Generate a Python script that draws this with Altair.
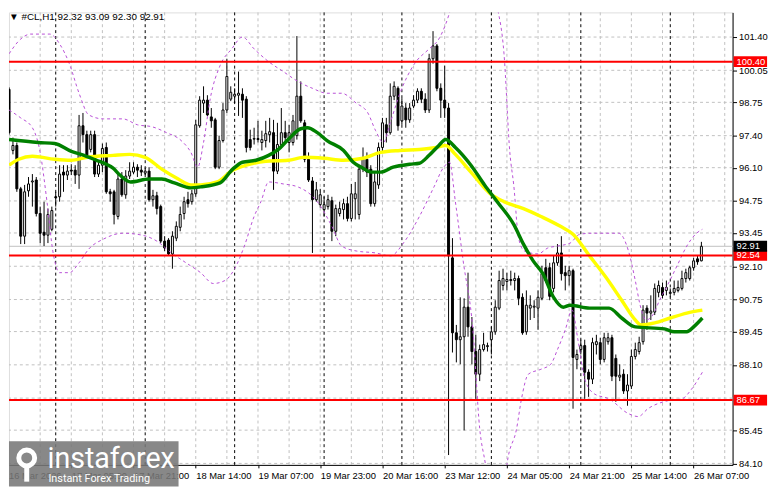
import altair as alt
import pandas as pd

# ---------------- data ----------------
bar_open = [99.28,96.80,97.00,95.24,93.32,95.16,95.52,95.60,94.24,93.48,93.36,93.60,94.92,94.92,95.92,95.80,96.00,96.00,95.80,97.80,
            97.44,96.84,97.44,95.84,96.20,96.92,95.12,95.12,94.12,95.64,95.00,95.76,95.92,96.12,96.00,95.88,95.96,94.80,94.96,94.52,
            93.12,93.16,92.60,93.24,93.68,94.24,94.80,94.72,95.04,97.80,98.72,98.84,98.16,98.04,96.12,97.20,98.44,98.88,99.00,99.04,
            99.08,98.88,97.24,97.26,97.28,97.12,97.20,97.44,97.52,95.96,97.04,97.52,97.12,97.12,97.40,99.00,97.92,96.44,95.56,94.80,
            94.60,94.40,94.52,94.76,93.52,94.24,94.40,94.64,94.04,94.84,94.20,96.04,96.44,96.04,94.64,95.40,96.92,97.84,97.52,99.00,
            99.32,98.00,98.52,98.04,98.60,98.84,99.20,98.88,98.44,100.52,101.04,99.32,98.84,98.52,92.44,89.40,89.12,89.24,90.44,89.64,
            88.64,87.72,88.72,88.84,89.12,89.44,90.40,91.32,91.48,91.56,91.52,91.60,90.84,89.44,90.40,90.44,90.40,90.80,92.04,92.04,
            91.20,92.24,92.64,91.84,91.72,91.92,88.32,88.72,88.88,87.80,87.52,88.92,89.00,88.32,89.04,89.20,88.36,87.60,87.72,87.04,
            87.24,88.44,88.64,89.04,90.40,90.20,90.24,91.04,91.24,91.12,91.00,91.04,91.12,91.20,91.60,91.60,92.04,92.40,92.32]
bar_high = [99.36,97.32,97.12,95.32,95.40,95.72,95.84,95.72,94.52,94.72,94.44,94.52,95.12,96.20,96.20,96.20,96.24,96.20,98.24,98.32,
            97.60,97.60,97.60,96.40,97.08,97.12,95.24,95.20,95.84,95.92,96.00,96.32,96.32,96.24,96.20,96.08,96.12,95.20,95.12,94.60,
            93.32,93.24,93.52,93.92,94.52,94.92,95.12,95.20,98.04,99.00,99.40,99.04,98.52,98.12,97.40,98.72,100.52,99.40,99.32,100.00,
            99.32,99.00,97.64,97.72,98.00,97.60,98.00,98.12,98.04,97.92,98.52,98.00,97.84,98.24,101.44,99.60,98.04,96.72,95.72,95.52,
            95.24,94.92,95.00,94.92,94.60,94.72,94.84,94.92,95.44,95.52,96.20,96.92,96.72,96.20,95.92,97.12,98.12,98.12,99.52,99.60,
            99.40,98.92,98.72,98.72,99.04,99.32,99.32,99.12,100.72,101.64,101.12,99.52,100.24,98.72,93.24,89.72,90.84,90.80,91.84,90.04,
            89.32,88.92,89.40,89.00,89.64,90.72,91.92,92.00,91.84,91.92,91.84,91.72,91.00,91.12,90.92,90.72,91.12,92.12,92.40,92.24,
            92.52,93.00,93.32,92.12,92.12,92.00,88.72,89.12,89.12,87.92,89.20,89.32,89.20,89.40,89.40,89.32,88.52,88.12,87.92,87.72,
            88.72,89.00,89.24,90.52,90.52,90.92,91.40,91.52,91.44,91.52,91.20,91.52,91.52,91.92,92.00,92.12,92.44,92.52,93.09]
bar_low = [97.44,96.64,95.12,93.00,93.00,94.92,94.52,94.12,93.04,92.92,93.04,93.52,94.52,94.72,95.12,95.60,95.80,95.44,95.24,97.12,
           96.52,96.72,95.72,95.72,95.92,95.04,94.72,93.80,94.00,94.92,94.84,95.64,95.84,95.72,95.76,95.72,94.72,94.52,94.20,93.04,
           92.72,92.52,92.00,93.12,93.52,94.00,94.48,94.60,94.92,97.72,98.32,98.20,97.72,96.04,96.04,97.12,98.32,98.80,98.72,98.20,
           98.12,96.72,96.80,97.04,97.12,96.80,96.92,97.12,95.20,95.84,96.92,97.12,96.72,97.00,97.24,97.92,96.32,95.52,92.64,94.72,
           94.48,94.12,94.40,93.12,93.32,94.12,94.00,93.92,93.92,94.00,94.00,95.92,95.72,94.52,94.52,95.24,96.72,97.12,97.44,98.84,
           97.60,97.84,97.72,97.92,98.52,98.72,98.72,98.32,98.32,100.32,99.20,98.12,98.12,84.44,88.60,88.20,88.12,85.44,89.24,88.12,
           86.72,87.44,88.64,88.64,88.52,89.32,90.32,91.12,91.12,91.32,91.12,90.52,89.32,89.32,89.92,90.00,89.52,90.72,91.44,90.72,
           91.04,92.12,91.52,91.12,91.32,86.32,87.92,88.52,86.72,86.80,87.32,88.52,88.12,88.20,88.92,87.44,86.60,87.44,86.92,86.44,
           87.12,88.32,88.52,88.92,89.52,89.92,90.12,90.84,90.80,90.92,90.84,90.92,91.04,91.12,91.44,91.52,91.92,92.16,92.30]
bar_close = [97.52,97.00,95.24,93.32,95.12,95.44,95.56,94.24,93.44,93.36,94.20,94.36,94.88,95.84,95.80,95.96,95.96,95.80,97.80,97.44,
             96.60,97.44,95.84,96.20,96.88,95.12,95.04,94.20,95.64,95.00,95.76,95.96,96.12,96.00,95.92,95.96,94.80,94.96,94.44,93.12,
             92.84,92.60,93.32,93.72,94.20,94.72,94.64,95.04,97.84,98.84,98.84,98.24,98.00,96.12,97.20,98.44,99.80,99.16,99.08,99.12,
             98.84,96.92,96.92,97.28,97.24,97.24,97.48,97.56,95.96,97.04,97.52,97.32,97.52,98.00,99.00,98.00,96.44,95.60,94.80,95.20,
             95.00,94.60,94.80,93.52,94.44,94.44,94.64,94.04,95.04,95.04,96.04,96.44,95.92,94.64,95.52,96.92,97.92,97.52,99.00,99.40,
             97.80,98.60,98.04,98.52,98.84,99.20,98.88,98.44,100.52,101.04,99.32,98.84,98.52,92.52,89.40,89.12,89.24,90.44,89.64,88.64,
             87.72,88.72,88.92,88.88,89.44,90.44,91.52,91.60,91.56,91.52,91.60,90.80,89.40,90.52,90.52,90.48,90.84,91.80,91.52,90.88,
             92.24,92.64,91.80,91.72,91.92,88.40,88.52,88.88,87.80,87.52,89.00,89.04,88.32,89.20,89.20,87.64,87.64,87.68,87.04,87.28,
             88.44,88.72,89.00,90.32,90.20,90.28,91.20,91.32,90.92,91.24,91.04,91.20,91.24,91.60,91.84,92.04,92.32,92.28,92.91]

# moving averages (bar index, price)
ma_green_i = [0,7.5,11.75,16,18.5,22.5,25,26.75,28.5,31.25,36,39.25,42.5,46.75,49.25,54.25,57.5,60,63.5,66.75,69.25,71.75,75,76.75,
              79.25,81.75,86,88.5,91,93,95.5,98.75,103,105.5,108,110.5,112.25,114.75,118.75,122.25,125.5,129.75,132.25,134.75,137.25,
              140,142.5,144.25,149.25,154.25,157.5,161,168.5,171,174.25,176,178.25]
ma_green_p = [97.24,97.12,97.08,96.76,96.64,96.40,96.24,96.08,95.80,95.52,95.64,95.64,95.48,95.28,95.32,95.48,96.04,96.32,96.40,96.60,
              96.84,97.24,97.68,97.72,97.52,97.20,96.80,96.32,96.08,95.92,95.92,96.12,96.24,96.28,96.60,97.00,97.24,96.92,96.20,95.40,
              94.72,93.80,93.00,92.32,91.80,90.84,90.44,90.52,90.40,90.40,90.00,89.64,89.56,89.44,89.44,89.64,90.00]
ma_yellow_i = [0,2.5,6,11.75,16,20,26.75,31,35,39.25,43.5,46.75,49.25,53.5,57.5,61,66,71.75,76,81,86,91,95.5,100.5,105.5,109.75,
               112.25,114.75,118.75,123.75,127.25,132.25,136.75,141.75,145,149.25,153.5,157.5,161,162.5,166,170,174.25,178.25]
ma_yellow_p = [96.20,96.44,96.56,96.44,96.40,96.52,96.60,96.64,96.52,96.04,95.64,95.40,95.40,95.52,96.00,96.20,96.36,96.40,96.52,96.48,
               96.40,96.48,96.72,96.80,96.84,96.92,97.00,96.64,95.92,95.04,94.72,94.44,94.12,93.72,93.40,92.52,91.64,90.72,89.92,89.72,
               89.80,90.00,90.20,90.32]

# Bollinger bands (bar index, price)
bb_up_i = [0,3,5.5,10.5,13,15.5,18,20.5,24.25,29.25,33,36.75,40.5,44.25,46.75,48.5,50,51.75,54.25,57.25,60,63,66.75,70.5,74.25,78,
           81.75,85.5,89.25,92.25,94.25,96.25,98,100.5,104.25,108,110.5,112.25,113.75,116.75,121.75,125.5,127.25,128.75,129.75,131,
           132.5,136,138.5,141,144.25,146.75,150,154.25,156.75,159.25,161,162.25,163.75,165.5,167.25,169.25,171.75,174.25,176.75,178.25]
bb_up_p = [100.72,101.32,101.52,101.52,101.12,100.32,99.12,98.24,98.08,98.08,97.84,97.76,97.52,97.20,96.72,96.12,97.12,98.92,100.24,
           100.92,101.40,100.92,100.40,100.00,99.60,99.32,99.12,99.12,98.72,98.32,97.60,97.12,97.92,99.12,100.32,100.92,101.32,101.92,
           102.64,104.32,104.32,102.64,100.72,96.72,95.40,93.24,92.72,92.60,92.84,92.92,93.04,93.40,93.44,93.44,93.44,92.72,91.52,90.52,
           89.92,90.12,90.72,91.32,92.12,92.92,93.44,93.60]
bb_lo_i = [0,3,6,8,9.75,11.25,13,15.5,18,20.5,24.25,29.25,34.25,38,41.75,45.5,49.25,52.5,55.5,58,60.5,63,64.75,66.75,70.5,74.25,
           79.25,83,85.5,89.25,94.25,98,101.75,105.5,109.25,111.75,113.25,114.75,116.75,119.25,121,122.5,124.25,126.75,128,130.5,
           131.75,133.5,136.75,139.25,141,143,144.75,146.25,148,150.5,154.25,159.25,161.75,164.25,169.25,173,175.5,178.25]
bb_lo_p = [98.44,98.12,97.72,96.72,94.72,92.72,91.84,91.84,92.24,92.80,93.20,93.44,93.36,93.12,92.64,92.24,91.84,91.40,91.52,92.00,
           92.92,94.12,94.72,95.52,95.44,95.32,94.72,93.72,92.92,92.72,92.64,92.52,93.12,94.12,95.32,96.12,96.32,94.72,92.32,89.52,
           85.52,84.04,81.92,81.92,84.04,85.52,86.72,87.72,87.92,88.12,88.72,89.52,90.32,89.12,87.52,86.92,86.72,86.12,86.00,86.32,
           86.64,86.72,87.12,87.80]

x_tick_labels = ["16 Mar 2026", "17 Mar 05:00", "17 Mar 21:00", "18 Mar 14:00", "19 Mar 07:00", "19 Mar 23:00",
                 "20 Mar 16:00", "23 Mar 12:00", "24 Mar 05:00", "24 Mar 21:00", "25 Mar 14:00", "26 Mar 07:00"]
x_tick_bars = [0, 16, 32, 48, 64, 80, 96, 112, 128, 144, 160, 176]
day_separators = [12, 35, 58, 81, 101, 124, 147, 170]
grid_bars = list(range(8, 185, 8))
y_labels = [101.40, 100.05, 98.75, 97.40, 96.10, 94.75, 93.45, 92.10, 90.75, 89.45, 88.10, 85.45, 84.10]
y_grid = [101.40, 100.05, 98.75, 97.40, 96.10, 94.75, 93.45, 92.10, 90.75, 89.45, 88.10, 86.75, 85.45, 84.10]
red_levels = [100.40, 92.54, 86.67]
last_price = 92.91
title_text = "\u25bc #CL,H1  92.32 93.09 92.30 92.91"

# ---------------- chart ----------------
W, H = 734, 459
FONT = "Liberation Sans, DejaVu Sans, sans-serif"

xscale = alt.Scale(domain=[1.25, 184.75], nice=False, zero=False)
yscale = alt.Scale(domain=[84.04, 102.40], nice=False, zero=False)

label_js = "[" + ",".join("'%s'" % s for s in x_tick_labels) + "]"
xaxis = alt.Axis(values=x_tick_bars[1:], labelExpr=label_js + "[round(datum.value/16)]", labelAlign="left",
                 labelBaseline="top", labelPadding=3, tickSize=3, tickColor="black", domainColor="black",
                 labelColor="black", labelFont=FONT, labelFontSize=9.5, grid=False, title=None,
                 labelOverlap=False, labelFlush=False)
yaxis = alt.Axis(orient="right", values=y_labels, format=".2f", labelFont=FONT, labelFontSize=9.5,
                 tickSize=4, tickColor="black", domainColor="black", labelColor="black", labelPadding=2,
                 grid=False, title=None, labelOverlap=False, labelFlush=False)

def X(f):
    return alt.X(f, type="quantitative", scale=xscale, axis=xaxis)

def Y(f):
    return alt.Y(f, type="quantitative", scale=yscale, axis=yaxis)

candles = pd.DataFrame({"i": range(len(bar_close)), "open": bar_open, "high": bar_high,
                        "low": bar_low, "close": bar_close})

hgrid = alt.Chart(pd.DataFrame({"p": y_grid})).mark_rule(color="#c0c0c0", strokeDash=[3, 3], strokeWidth=1).encode(y=Y("p"))
vgrid = alt.Chart(pd.DataFrame({"i": grid_bars})).mark_rule(color="#c0c0c0", strokeDash=[3, 3], strokeWidth=1).encode(x=X("i"))
seps = alt.Chart(pd.DataFrame({"i": day_separators})).mark_rule(color="black", strokeDash=[3, 3], strokeWidth=1).encode(x=X("i"))
lastline = alt.Chart(pd.DataFrame({"p": [last_price]})).mark_rule(color="#c0c0c0", strokeWidth=1).encode(y=Y("p"))

wicks = alt.Chart(candles).mark_rule(color="black", strokeWidth=1, clip=True).encode(x=X("i"), y=Y("low"), y2="high")
bodies = alt.Chart(candles).mark_bar(size=2, stroke="black", strokeWidth=1, clip=True).encode(
    x=X("i"), y=Y("open"), y2="close",
    fill=alt.condition("datum.close >= datum.open", alt.value("white"), alt.value("black")))

def line_df(ii, pp):
    return pd.DataFrame({"i": ii, "p": pp})

bb_up = alt.Chart(line_df(bb_up_i, bb_up_p)).mark_line(color="#b84fd6", strokeWidth=1, strokeDash=[3, 3], clip=True,
                                                       interpolate="monotone").encode(x=X("i"), y=Y("p"))
bb_lo = alt.Chart(line_df(bb_lo_i, bb_lo_p)).mark_line(color="#b84fd6", strokeWidth=1, strokeDash=[3, 3], clip=True,
                                                       interpolate="monotone").encode(x=X("i"), y=Y("p"))
ma_y = alt.Chart(line_df(ma_yellow_i, ma_yellow_p)).mark_line(color="#ffff00", strokeWidth=3.5, clip=True,
                                                             interpolate="monotone").encode(x=X("i"), y=Y("p"))
ma_g = alt.Chart(line_df(ma_green_i, ma_green_p)).mark_line(color="#008000", strokeWidth=3.5, clip=True,
                                                           interpolate="monotone").encode(x=X("i"), y=Y("p"))

reds = alt.Chart(pd.DataFrame({"p": red_levels})).mark_rule(color="#ff0000", strokeWidth=2).encode(y=Y("p"))

box_df = pd.DataFrame({"p": red_levels + [last_price],
                       "t": ["%.2f" % v for v in red_levels] + ["%.2f" % last_price],
                       "c": ["#ff0000"] * 3 + ["#000000"]})
boxes = alt.Chart(box_df).mark_rule(strokeWidth=11).encode(
    y=Y("p"), x=alt.value(W + 1), x2=alt.value(W + 35), color=alt.Color("c:N", scale=None))
box_text = alt.Chart(box_df).mark_text(align="left", baseline="middle", color="white", font=FONT, fontSize=9.5).encode(
    y=Y("p"), x=alt.value(W + 4), text="t:N")

first_label = alt.Chart(pd.DataFrame({"t": [x_tick_labels[0]]})).mark_text(
    align="left", baseline="top", font=FONT, fontSize=9.5, color="black").encode(
    x=alt.value(0), y=alt.value(H + 6), text="t:N")

title = alt.Chart(pd.DataFrame({"t": [title_text]})).mark_text(
    align="left", baseline="top", font=FONT, fontSize=10, color="black").encode(
    x=alt.value(0), y=alt.value(0), text="t:N")

logo_box = alt.Chart(pd.DataFrame({"a": [0]})).mark_rect(color="#777777", opacity=0.88).encode(
    x=alt.value(0), x2=alt.value(172), y=alt.value(435), y2=alt.value(481))
logo_gear = alt.Chart(pd.DataFrame({"a": [0]})).mark_point(shape="circle", filled=False, color="white",
                                                          strokeWidth=5, size=260, opacity=1).encode(
    x=alt.value(18), y=alt.value(452))
logo_key = alt.Chart(pd.DataFrame({"a": [0]})).mark_rule(color="white", strokeWidth=5).encode(
    x=alt.value(18), y=alt.value(458), y2=alt.value(476))
logo_text = alt.Chart(pd.DataFrame({"t": ["instaforex"]})).mark_text(
    align="left", baseline="alphabetic", font="Roboto", fontSize=29, color="white").encode(
    x=alt.value(39), y=alt.value(462), text="t:N")
logo_sub = alt.Chart(pd.DataFrame({"t": ["Instant Forex Trading"]})).mark_text(
    align="left", baseline="alphabetic", font="Roboto", fontSize=11, color="white").encode(
    x=alt.value(40), y=alt.value(476), text="t:N")

chart = alt.layer(
    hgrid, vgrid, seps, lastline, wicks, bodies, bb_up, bb_lo, ma_y, ma_g, reds,
    boxes, box_text, first_label, title, logo_box, logo_gear, logo_key, logo_text, logo_sub
).properties(
    width=W, height=H, padding={"left": 0, "top": 0, "right": 0, "bottom": 0}
).configure_view(
    stroke="black", strokeWidth=1
).configure(background="white")

chart.save("out.html", embed_options={"renderer": "svg", "actions": False})
